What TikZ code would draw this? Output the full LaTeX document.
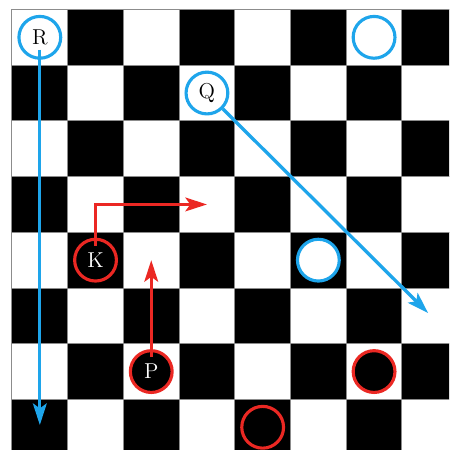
\documentclass[tikz,border=0pt]{standalone}
\usepackage{xcolor}
\usepackage{tikz}
\usetikzlibrary{arrows.meta,positioning,calc}
\definecolor{pblue}{RGB}{30,165,235}
\definecolor{pred}{RGB}{235,40,35}
\definecolor{gridgray}{RGB}{140,140,140}

\begin{document}
\begin{tikzpicture}[
  y=-1cm,
  sq/.style={draw=gridgray, line width=0.5pt},
  wpiece/.style={circle, draw=pblue, fill=white, line width=1.6pt,
                 minimum size=7.5mm, inner sep=0pt, font=\fontsize{11}{12}\selectfont},
  bpiece/.style={wpiece, draw=pred, fill=black, text=white},
  barr/.style={-{Stealth[length=11pt,width=7pt,inset=2.5pt]}, line width=1.7pt, color=pblue},
  rarr/.style={-{Stealth[length=11pt,width=7pt,inset=2.5pt]}, line width=1.6pt, color=pred},
  >=Stealth
]
\useasboundingbox (-0.215,-0.170) rectangle (7.846,7.908);
\clip (-0.215,-0.170) rectangle (7.846,7.908);

% Board
\foreach \c in {0,...,7}
  \foreach \r in {0,...,7}{
    \pgfmathtruncatemacro{\parity}{mod(\c+\r,2)}
    \ifnum\parity=0
      \draw[sq, fill=white] (\c,\r) rectangle ++(1,1);
    \else
      \draw[sq, fill=black] (\c,\r) rectangle ++(1,1);
    \fi
  }

% Blue pieces
\node[wpiece] (R)    at (0.5,0.5) {R};
\node[wpiece] (Q)    at (3.5,1.5) {Q};
\node[wpiece] (b_a)  at (6.5,0.5) {};
\node[wpiece] (b_b)  at (5.5,4.5) {};

% Red pieces
\node[bpiece] (K)    at (1.5,4.5) {K};
\node[bpiece] (P)    at (2.5,6.5) {P};
\node[bpiece] (r_a)  at (6.5,6.5) {};
\node[bpiece] (r_b)  at (4.5,7.5) {};

% Move targets
\coordinate (R_to) at (0.5,7.46);
\coordinate (Q_to) at (7.47,5.45);
\coordinate (K_to) at (3.5,3.5);
\coordinate (P_to) at (2.5,4.5);

% Moves
\draw[barr] ([yshift=-0.22cm]R.center) -- (R_to);
\draw[barr] (Q.south east) -- (Q_to);
\draw[rarr] ([yshift=0.26cm]K.center) |- (K_to);
\draw[rarr] ([yshift=0.26cm]P.center) -- (P_to);

\end{tikzpicture}
\end{document}
